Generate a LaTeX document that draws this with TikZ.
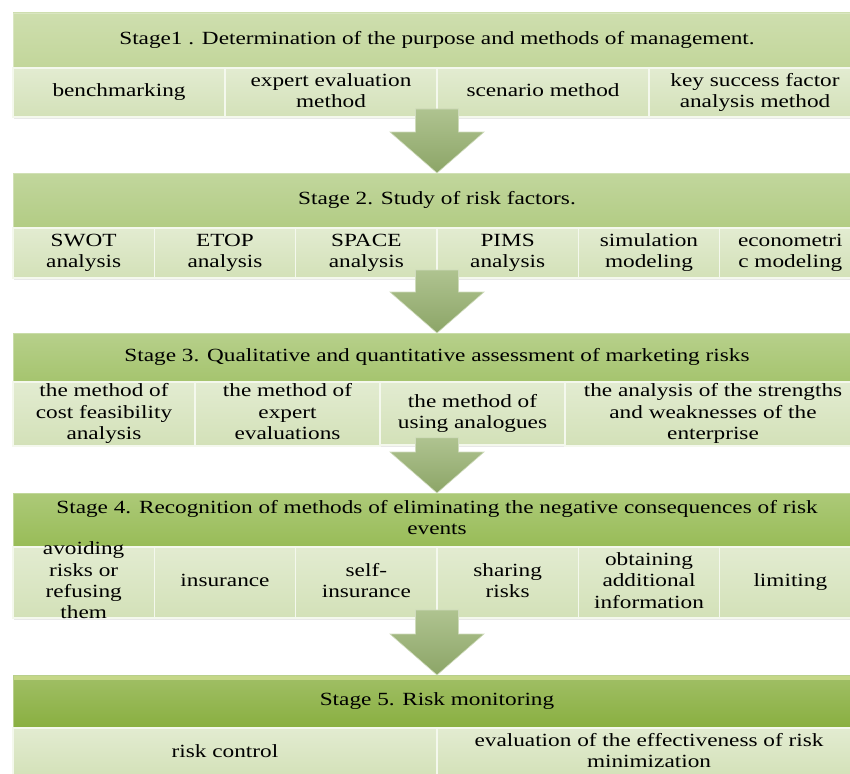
\documentclass[tikz,border=0pt]{standalone}
\usepackage{fontspec}
\setmainfont{Liberation Serif}
\usetikzlibrary{calc,shadows}
\definecolor{hA}{HTML}{C2D69A}
\definecolor{hB}{HTML}{B2CC84}
\definecolor{hC}{HTML}{A5C46E}
\definecolor{hD}{HTML}{98BC57}
\definecolor{hE}{HTML}{89AF40}
\definecolor{cellc}{HTML}{D3E1B8}
\definecolor{arrL}{HTML}{AFC390}
\definecolor{arrD}{HTML}{8CA567}
\newcommand\fsz{\fontsize{18.6}{21.3}\selectfont}
\newcommand\tx[1]{\scalebox{1.25}[1]{\begin{tabular}{@{}c@{}}#1\end{tabular}}}
\newcommand\blockarrow[2]{%
  \coordinate (bA) at (#1);
  \coordinate (bB) at (#2);
  \shade[arrowst] ($(bA)+(-21.5,8)$) -- ($(bA)+(21.5,8)$) -- ($(bB)+(21.5,41)$)
    -- ($(bB)+(47,41)$) -- (bB) -- ($(bB)+(-47,41)$) -- ($(bB)+(-21.5,41)$) -- cycle;}
\tikzset{
  hdr/.style={rectangle, anchor=north west, inner sep=0pt, outer sep=0pt,
    minimum width=848pt, text=black, draw=#1!60!white, line width=0.8pt,
    top color=#1!80!white, bottom color=#1, font=\fsz,
    drop shadow={opacity=0.18, shadow xshift=0.8pt, shadow yshift=-1.5pt}},
  cell/.style={rectangle, anchor=north west, inner sep=0pt, outer sep=0pt,
    text=black, draw=white!75!cellc, line width=1.3pt,
    top color=cellc!65!white, bottom color=cellc, font=\fsz,
    drop shadow={opacity=0.18, shadow xshift=0.8pt, shadow yshift=-1.5pt}},
  arrowst/.style={top color=arrL, bottom color=arrD, draw=arrL!60!white, line width=0.6pt},
}
\begin{document}
\begin{tikzpicture}[x=1pt,y=1pt]
\useasboundingbox (0,0) rectangle (850,-773);
\clip (0,0) rectangle (850,-773);
\fill[white] (0,0) rectangle (850,-773);

% Stage 1
\node[hdr=hA, minimum height=55pt] (h1) at (13,-13) {\tx{Stage1 . Determination of the purpose and methods of management.}};
\node[cell, minimum width=212pt, minimum height=49pt] (s1a) at (13,-68) {\tx{benchmarking}};
\node[cell, minimum width=212pt, minimum height=49pt] (s1b) at (225,-68) {\tx{expert evaluation\\method}};
\node[cell, minimum width=212pt, minimum height=49pt] (s1c) at (437,-68) {\tx{scenario method}};
\node[cell, minimum width=212pt, minimum height=49pt] (s1d) at (649,-68) {\tx{key success factor\\analysis method}};

% Stage 2
\node[hdr=hB, minimum height=55pt] (h2) at (13,-173) {\tx{Stage 2. Study of risk factors.}};
\node[cell, minimum width=141.33pt, minimum height=50pt] (s2a) at (13,-228) {\tx{SWOT\\analysis}};
\node[cell, minimum width=141.33pt, minimum height=50pt] (s2b) at (154.33,-228) {\tx{ETOP\\analysis}};
\node[cell, minimum width=141.33pt, minimum height=50pt] (s2c) at (295.67,-228) {\tx{SPACE\\analysis}};
\node[cell, minimum width=141.33pt, minimum height=50pt] (s2d) at (437,-228) {\tx{PIMS\\analysis}};
\node[cell, minimum width=141.33pt, minimum height=50pt] (s2e) at (578.33,-228) {\tx{simulation\\modeling}};
\node[cell, minimum width=141.33pt, minimum height=50pt] (s2f) at (719.67,-228) {\tx{econometri\\c modeling}};

% Stage 3
\node[hdr=hC, minimum height=49pt] (h3) at (13,-333) {\tx{Stage 3. Qualitative and quantitative assessment of marketing risks}};
\node[cell, minimum width=182pt, minimum height=63pt] (s3a) at (13,-382) {\tx{the method of\\cost feasibility\\analysis}};
\node[cell, minimum width=185pt, minimum height=63pt] (s3b) at (195,-382) {\tx{the method of\\expert\\evaluations}};
\node[cell, minimum width=185pt, minimum height=63pt] (s3c) at (380,-382) {\tx{the method of\\using analogues}};
\node[cell, minimum width=296pt, minimum height=63pt] (s3d) at (565,-382) {\tx{the analysis of the strengths\\and weaknesses of the\\enterprise}};

% Stage 4
\node[hdr=hD, minimum height=54pt] (h4) at (13,-493) {\tx{Stage 4. Recognition of methods of eliminating the negative consequences of risk\\events}};
\node[cell, minimum width=141.33pt, minimum height=71pt, inner ysep=-7.1pt] (s4a) at (13,-547) {\tx{avoiding\\risks or\\refusing\\them}};
\node[cell, minimum width=141.33pt, minimum height=71pt] (s4b) at (154.33,-547) {\tx{insurance}};
\node[cell, minimum width=141.33pt, minimum height=71pt] (s4c) at (295.67,-547) {\tx{self-\\insurance}};
\node[cell, minimum width=141.33pt, minimum height=71pt] (s4d) at (437,-547) {\tx{sharing\\risks}};
\node[cell, minimum width=141.33pt, minimum height=71pt] (s4e) at (578.33,-547) {\tx{obtaining\\additional\\information}};
\node[cell, minimum width=141.33pt, minimum height=71pt] (s4f) at (719.67,-547) {\tx{limiting}};

% Stage 5
\node[hdr=hE, minimum height=53pt,
  path picture={\fill[hE!55!white!90!yellow] (path picture bounding box.north west) rectangle ([yshift=-5pt]path picture bounding box.north east);}] (h5) at (13,-675) {\tx{Stage 5. Risk monitoring}};
\node[cell, minimum width=424pt, minimum height=50pt] (s5a) at (13,-728) {\tx{risk control}};
\node[cell, minimum width=424pt, minimum height=50pt] (s5b) at (437,-728) {\tx{evaluation of the effectiveness of risk\\minimization}};

% Arrows
\blockarrow{h1.center |- s1a.south}{h2.north}
\blockarrow{h2.center |- s2a.south}{h3.north}
\blockarrow{h3.center |- s3a.south}{h4.north}
\blockarrow{h4.center |- s4a.south}{h5.north}
\end{tikzpicture}
\end{document}
